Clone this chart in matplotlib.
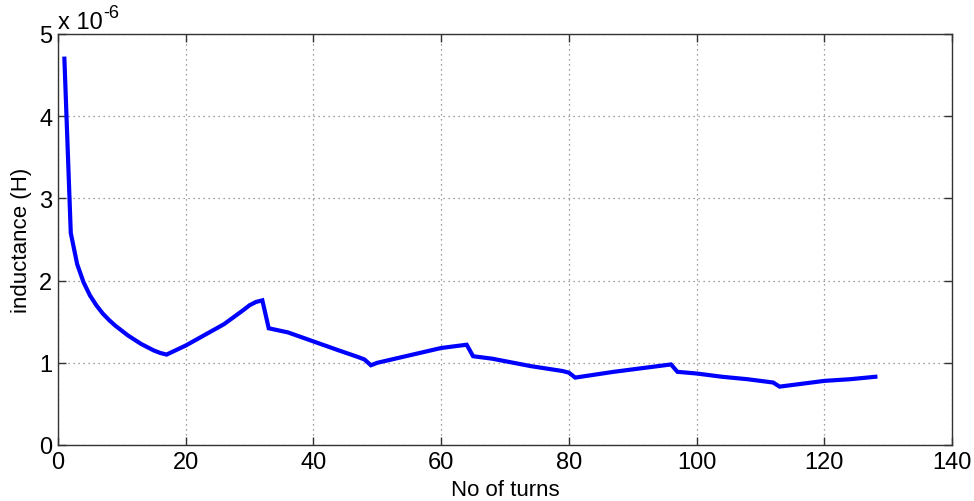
import matplotlib
matplotlib.use("Agg")
import matplotlib.pyplot as plt
from matplotlib.ticker import FuncFormatter, MultipleLocator

plt.rcParams['font.family'] = ['Liberation Sans', 'DejaVu Sans']

# inductance vs number of turns (values in units of 1e-6 H)
turns = [1, 2, 3, 4, 5, 6, 7, 8, 9, 10, 11, 12, 13, 14, 15, 16, 17,
         20, 23, 26, 29, 30, 31, 32,
         33, 36, 40, 44, 47, 48,
         49, 50, 55, 60, 63, 64,
         65, 68, 74, 79, 80,
         81, 87, 92, 95, 96,
         97, 100, 104, 108, 112,
         113, 116, 120, 124, 128]
L_micro = [4.70, 2.58, 2.20, 1.98, 1.82, 1.70, 1.60, 1.52, 1.45, 1.39, 1.33, 1.28, 1.23, 1.19, 1.15, 1.12, 1.10,
           1.21, 1.34, 1.47, 1.64, 1.70, 1.74, 1.76,
           1.42, 1.37, 1.26, 1.15, 1.07, 1.04,
           0.97, 1.00, 1.09, 1.18, 1.21, 1.22,
           1.08, 1.05, 0.96, 0.90, 0.88,
           0.82, 0.89, 0.94, 0.97, 0.98,
           0.89, 0.87, 0.83, 0.80, 0.76,
           0.71, 0.74, 0.78, 0.80, 0.83]
scale = 1e-6

fig = plt.figure(figsize=(9.74, 5.02), dpi=100)
ax = fig.add_axes([58 / 974, 1 - 446 / 502, 894 / 974, 411 / 502])

ax.plot(turns, [v * scale for v in L_micro], color='#0000ff', lw=3, solid_joinstyle='miter')

ax.set_xlim(0, 140)
ax.set_ylim(0, 5 * scale)
ax.xaxis.set_major_locator(MultipleLocator(20))
ax.yaxis.set_major_locator(MultipleLocator(scale))
ax.yaxis.set_major_formatter(FuncFormatter(lambda v, p: '%g' % round(v / scale, 6)))

ax.grid(True, linestyle=(0, (1, 3)), color='#808080', lw=0.9)
for s in ax.spines.values():
    s.set_color('#333333')
    s.set_linewidth(1.0)
ax.tick_params(direction='in', length=6, width=1, color='#333333',
               top=True, right=True, labelsize=17, pad=4)

ax.set_xlabel('No of turns', fontsize=16, labelpad=5)
ax.set_ylabel('inductance (H)', fontsize=16, labelpad=5)

# exponent label, MATLAB style
base = ax.text(0.0, 1.003, 'x 10', transform=ax.transAxes, fontsize=17,
               ha='left', va='bottom')
ax.annotate('-6', xy=(1, 1), xycoords=base, xytext=(0.5, -1),
            textcoords='offset points', fontsize=13, ha='left', va='center')

fig.savefig('out.png', dpi=100)
